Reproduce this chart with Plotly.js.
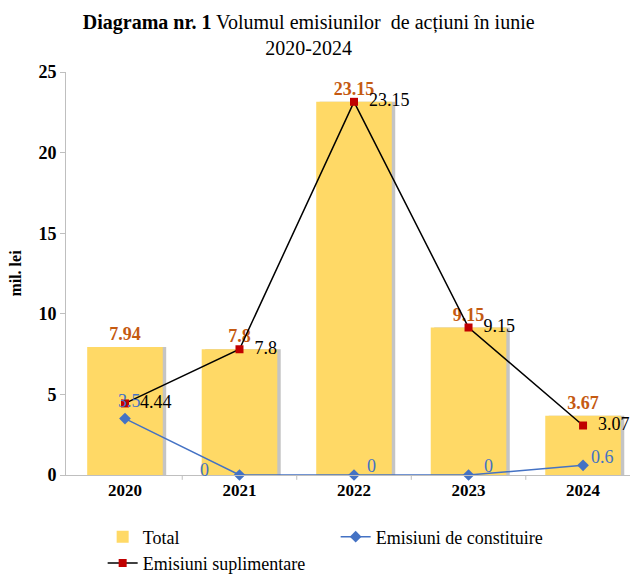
<!DOCTYPE html>
<html><head><meta charset="utf-8">
<script src="https://cdn.plot.ly/plotly-3.0.1.min.js"></script>
<style>html,body{margin:0;padding:0;background:#fff}#c{width:630px;height:578px}</style>
</head><body><div id="c"></div>
<script>
const years = ['2020','2021','2022','2023','2024'];
const total = [7.94, 7.8, 23.15, 9.15, 3.67];
const constituire = [3.5, 0, 0, 0, 0.6];
const suplimentare = [4.44, 7.8, 23.15, 9.15, 3.07];
const totalLabels = ['7.94','7.8','23.15','9.15','3.67'];
const constLabels = ['3.5','0','0','0','0.6'];
const suplLabels = ['4.44','7.8','23.15','9.15','3.07'];

// label placement offsets (pixels) for the blue series labels
const constLabelShiftX = [5, -35, 17, 20, 19];
const constLabelShiftY = [18, 5, 9, 9, 8];

const serif = 'Liberation Serif, Times New Roman, serif';
const xIdx = years.map((_, i) => i);

const traces = [
  { type:'bar', x:xIdx, y:total, width:0.66, offset:-0.33+0.03, marker:{color:'#c4c4c4'},
    showlegend:false, hoverinfo:'skip' },
  { type:'bar', name:'Total', x:xIdx, y:total, width:0.66, offset:-0.33, marker:{color:'#FFD966'},
    text:totalLabels, textposition:'outside', cliponaxis:false,
    textfont:{family:serif, size:18, color:'#C55A11', weight:'bold'} },
  { type:'scatter', mode:'lines+markers', name:'Emisiuni de constituire', x:xIdx, y:constituire,
    line:{color:'#4472C4', width:1.5}, marker:{symbol:'diamond', size:9, color:'#4472C4'}, cliponaxis:false },
  { type:'scatter', mode:'lines+markers+text', name:'Emisiuni suplimentare', x:xIdx, y:suplimentare,
    line:{color:'#000000', width:1.5}, marker:{symbol:'square', size:8, color:'#C00000'},
    text:suplLabels.map(s => '  ' + s), textposition:'middle right',
    textfont:{family:serif, size:18, color:'#000000'}, cliponaxis:false }
];

const annotations = constLabels.map((t, i) => ({
  x: xIdx[i], y: constituire[i], xref:'x', yref:'y', text:t, showarrow:false,
  xshift: constLabelShiftX[i], yshift: constLabelShiftY[i],
  font:{family:serif, size:18, color:'#4472C4'}
}));

const layout = {
  width:630, height:578,
  margin:{l:66, r:0, t:72, b:103, autoexpand:false},
  paper_bgcolor:'#ffffff', plot_bgcolor:'#ffffff',
  barmode:'overlay',
  title:{text:'<b>Diagrama nr. 1</b> Volumul emisiunilor  de acțiuni în iunie<br>2020-2024',
    font:{family:serif, size:20, color:'#000'}, x:0.49, xanchor:'center', y:0.95, yanchor:'top'},
  xaxis:{type:'linear', range:[-0.515, 4.41], tickvals:xIdx, ticktext:years,
    showgrid:false, zeroline:false, showline:true, linecolor:'#BFBFBF', linewidth:1,
    ticks:'', tickfont:{family:serif, size:17, color:'#000', weight:'bold'}},
  yaxis:{range:[0,25], dtick:5, showgrid:false, zeroline:false, showline:true, linecolor:'#BFBFBF',
    ticks:'outside', ticklen:5, tickcolor:'#BFBFBF',
    tickfont:{family:serif, size:18, color:'#000', weight:'bold'},
    title:{text:'mil. lei', font:{family:serif, size:16, color:'#000', weight:'bold'}, standoff:12}},
  shapes: [0.5,1.5,2.5,3.5].map(b => ({type:'line', xref:'x', yref:'paper', x0:b, x1:b, y0:0, y1:-0.012,
    line:{color:'#BFBFBF', width:1}})),
  annotations: annotations,
  legend:{orientation:'h', x:0.065, xanchor:'left', y:-0.108, yanchor:'top', entrywidth:188, entrywidthmode:'pixels',
    font:{family:serif, size:18, color:'#000'}, tracegroupgap:0},
  showlegend:true
};

Plotly.newPlot('c', traces, layout, {displayModeBar:false, staticPlot:true});
</script></body></html>
